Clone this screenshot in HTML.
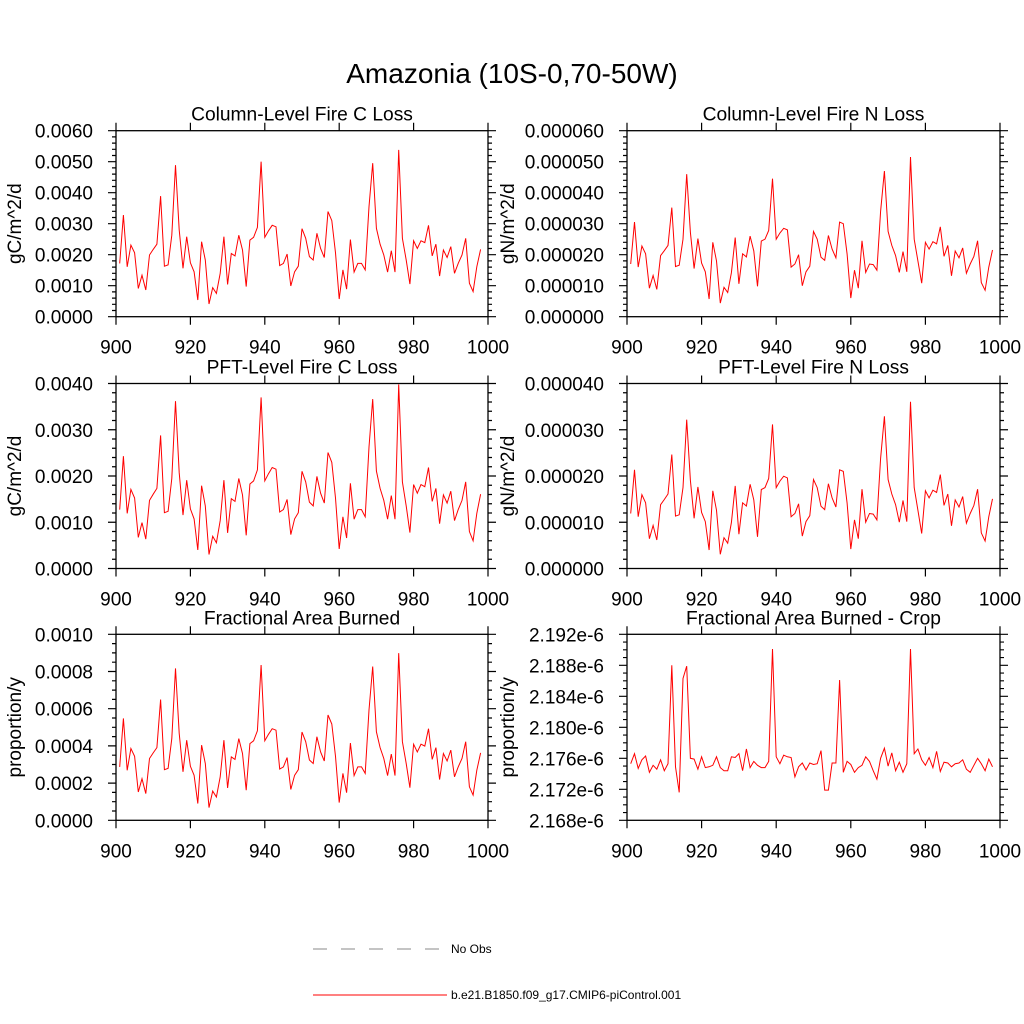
<!DOCTYPE html>
<html><head><meta charset="utf-8"><style>
html,body{margin:0;padding:0;background:#fff}
svg{display:block;font-family:"Liberation Sans",sans-serif}
</style></head><body>
<svg id="c" width="1024" height="1024" viewBox="0 0 1024 1024">
<text x="512" y="83" font-size="28" text-anchor="middle">Amazonia (10S-0,70-50W)</text>
<g>
<line x1="313" y1="949" x2="447" y2="949" stroke="#888" stroke-width="1" stroke-dasharray="14,14"/>
<text x="451" y="953" font-size="12">No Obs</text>
<line x1="313" y1="995" x2="447" y2="995" stroke="#f00" stroke-width="1"/>
<text x="451" y="999" font-size="12">b.e21.B1850.f09_g17.CMIP6-piControl.001</text>
</g>
</svg>
<script>
const years=[];for(let y=901;y<=998;y++)years.push(y);
const colC=[1.72,3.28,1.61,2.31,2.06,0.91,1.34,0.86,1.99,2.17,2.34,3.89,1.63,1.67,2.63,4.89,2.80,1.56,2.58,1.74,1.45,0.54,2.42,1.83,0.41,0.94,0.75,1.40,2.58,1.04,2.04,1.96,2.63,2.15,0.97,2.47,2.56,2.88,5.00,2.56,2.77,2.95,2.90,1.65,1.72,2.02,0.99,1.45,1.63,2.84,2.53,1.94,1.83,2.69,2.20,1.91,3.39,3.10,2.06,0.57,1.51,0.89,2.49,1.44,1.72,1.72,1.51,3.55,4.95,2.85,2.34,1.99,1.44,2.13,1.44,5.38,2.53,1.83,1.05,2.45,2.20,2.45,2.39,2.95,1.96,2.34,1.31,2.15,1.91,2.26,1.40,1.72,1.99,2.53,1.08,0.81,1.61,2.17];
const colN=[1.70,3.05,1.60,2.28,2.03,0.92,1.33,0.88,1.97,2.13,2.30,3.52,1.62,1.66,2.50,4.60,2.72,1.55,2.52,1.73,1.45,0.57,2.40,1.80,0.44,0.95,0.78,1.42,2.55,1.06,2.03,1.93,2.60,2.12,0.98,2.44,2.50,2.78,4.45,2.50,2.70,2.85,2.80,1.60,1.70,2.00,1.00,1.45,1.63,2.75,2.50,1.92,1.82,2.62,2.18,1.90,3.05,3.00,2.02,0.60,1.50,0.92,2.45,1.43,1.70,1.68,1.50,3.40,4.70,2.75,2.30,1.97,1.43,2.10,1.45,5.15,2.50,1.80,1.08,2.40,2.18,2.42,2.35,2.90,1.95,2.30,1.32,2.12,1.90,2.22,1.40,1.70,1.95,2.45,1.10,0.85,1.60,2.15];
const pftC=colC.map(v=>v);
const pftN=colN.map(v=>v);
const areaB=colC.map(v=>v);
const crop=[2.1753,2.1766,2.1747,2.1758,2.1763,2.1742,2.1751,2.1746,2.1758,2.1744,2.1753,2.1880,2.1749,2.1716,2.1863,2.1879,2.1760,2.1759,2.1746,2.1762,2.1748,2.1749,2.1751,2.1762,2.1748,2.1744,2.1744,2.1762,2.1761,2.1766,2.1744,2.1772,2.1748,2.1756,2.1751,2.1748,2.1748,2.1756,2.1901,2.1762,2.1753,2.1764,2.1762,2.1761,2.1736,2.1749,2.1754,2.1745,2.1754,2.1752,2.1753,2.1770,2.1719,2.1719,2.1754,2.1754,2.1861,2.1742,2.1756,2.1752,2.1742,2.1748,2.1751,2.1762,2.1756,2.1744,2.1733,2.1760,2.1773,2.1750,2.1767,2.1744,2.1755,2.1742,2.1753,2.1901,2.1766,2.1772,2.1758,2.1751,2.1761,2.1748,2.1769,2.1743,2.1755,2.1754,2.1749,2.1753,2.1754,2.1758,2.1746,2.1742,2.1751,2.1760,2.1753,2.1744,2.1759,2.1749];
const xTicks=[900,920,940,960,980,1000];

const panels=[
 {name:'column-fire-c',title:'Column-Level Fire C Loss',yl:'gC/m^2/d',x0:116,x1:488,y0:130.7,y1:316.7,min:0,max:0.006,step:0.001,minor:5,fmt:v=>v.toFixed(4),data:colC,scale:1e-3},
 {name:'column-fire-n',title:'Column-Level Fire N Loss',yl:'gN/m^2/d',x0:627,x1:1000,y0:130.7,y1:316.7,min:0,max:0.00006,step:0.00001,minor:5,fmt:v=>v.toFixed(6),data:colN,scale:1e-5},
 {name:'pft-fire-c',title:'PFT-Level Fire C Loss',yl:'gC/m^2/d',x0:116,x1:488,y0:383.5,y1:568.5,min:0,max:0.004,step:0.001,minor:5,fmt:v=>v.toFixed(4),data:pftC,scale:0.74e-3},
 {name:'pft-fire-n',title:'PFT-Level Fire N Loss',yl:'gN/m^2/d',x0:627,x1:1000,y0:383.5,y1:568.5,min:0,max:0.00004,step:0.00001,minor:5,fmt:v=>v.toFixed(6),data:pftN,scale:0.70e-5},
 {name:'area-burned',title:'Fractional Area Burned',yl:'proportion/y',x0:116,x1:488,y0:634.3,y1:820.3,min:0,max:0.001,step:0.0002,minor:4,fmt:v=>v.toFixed(4),data:areaB,scale:0.167e-3},
 {name:'area-burned-crop',title:'Fractional Area Burned - Crop',yl:'proportion/y',x0:627,x1:1000,y0:634.3,y1:820.3,min:2.168,max:2.192,step:0.004,minor:4,fmt:v=>v.toFixed(3)+'e-6',data:crop,scale:1}
];
const svg=document.getElementById('c');
const NS='http://www.w3.org/2000/svg';
function mk(t,a,p){const e=document.createElementNS(NS,t);for(const k in a)e.setAttribute(k,a[k]);p.appendChild(e);return e;}
panels.forEach(P=>{
 const g=mk('g',{},svg);
 
 
 const X=v=>P.x0+(v-900)/100*(P.x1-P.x0);
 const Y=v=>P.y1-(v-P.min)/(P.max-P.min)*(P.y1-P.y0);
 const fr=mk('rect',{x:P.x0,y:P.y0,width:P.x1-P.x0,height:P.y1-P.y0,fill:'none',stroke:'#000','stroke-width':1.3},g);
 
 
 const tt=mk('text',{x:(P.x0+P.x1)/2,y:P.y0-10,'font-size':19.2,'text-anchor':'middle'},g);tt.textContent=P.title;
 
 
 let d='';
 xTicks.forEach(v=>{const x=X(v);d+=`M${x},${P.y1}v8M${x},${P.y0}v-8`;
  const t=mk('text',{x:x,y:P.y1+37,'font-size':19,'text-anchor':'middle'},g);t.textContent=v;
  
  });
 const n=Math.round((P.max-P.min)/P.step);
 for(let i=0;i<=n;i++){const v=P.min+i*P.step;const y=Y(v);
  d+=`M${P.x0},${y}h-8M${P.x1},${y}h8`;
  const t=mk('text',{x:P.x0-23,y:y+7,'font-size':19,'text-anchor':'end'},g);t.textContent=P.fmt(v);
  
  
  if(i<n)for(let j=1;j<P.minor;j++){const ym=Y(v+P.step*j/P.minor);d+=`M${P.x0},${ym}h-4M${P.x1},${ym}h4`;}}
 const tk=mk('path',{d:d,stroke:'#000','stroke-width':1.2,fill:'none'},g);
 
 
 const lx=P.x0<300?21:514, ly=(P.y0+P.y1)/2;
 const yl=mk('text',{x:lx,y:ly,'font-size':19,'text-anchor':'middle',transform:`rotate(-90 ${lx} ${ly})`},g);yl.textContent=P.yl;
 
 
 const pts=P.data.map((v,i)=>X(years[i]).toFixed(1)+','+Y(v*P.scale).toFixed(1)).join(' ');
 const pl=mk('polyline',{points:pts,fill:'none',stroke:'#f00','stroke-width':1},g);
 
 
});
</script>
</body></html>
